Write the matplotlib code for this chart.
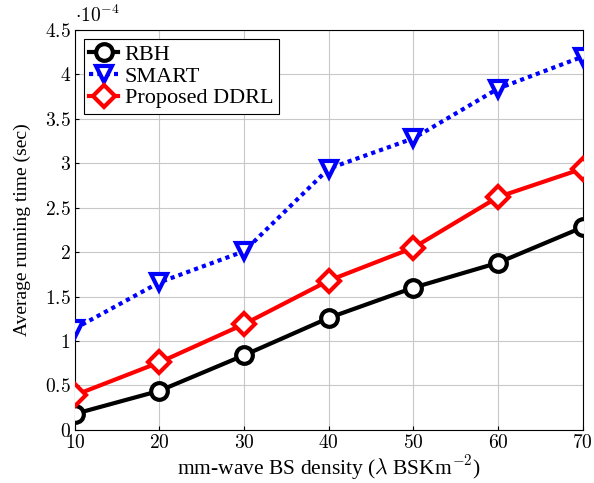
import numpy as np
import matplotlib.pyplot as plt
from matplotlib.ticker import FuncFormatter

plt.rcParams['font.family'] = ['Liberation Serif', 'DejaVu Serif']
plt.rcParams['mathtext.fontset'] = 'cm'

# dati (tempo in unità di 1e-4 s)
density = [10, 20, 30, 40, 50, 60, 70]
rbh = [0.18, 0.44, 0.84, 1.26, 1.60, 1.88, 2.28]
smart = [1.14, 1.66, 2.01, 2.94, 3.28, 3.84, 4.20]
ddrl = [0.39, 0.76, 1.19, 1.68, 2.05, 2.62, 2.94]

fig = plt.figure(figsize=(5.94, 4.83), dpi=100)
ax = fig.add_axes([0.126, 0.110, 0.855, 0.828])

ax.plot(density, rbh, color='black', lw=3, marker='o', ms=12, mew=3,
        mfc='white', label='RBH', zorder=3)
ax.plot(density, smart, color='blue', lw=3, ls=(0, (1, 1)), marker='v', ms=12, mew=3,
        mfc='white', label='SMART', zorder=3)
ax.plot(density, ddrl, color='red', lw=3, marker='D', ms=11, mew=3,
        mfc='white', label='Proposed DDRL', zorder=3)

ax.set_xlim(10, 70)
ax.set_ylim(0, 4.5)
ax.set_xticks(density)
ax.set_yticks(np.arange(0, 4.51, 0.5))
ax.xaxis.set_major_formatter(FuncFormatter(lambda v, p: f'${v:g}$'))
ax.yaxis.set_major_formatter(FuncFormatter(lambda v, p: f'${v:g}$'))
ax.tick_params(direction='in', length=3, labelsize=14, pad=3)
ax.grid(True, color='#c8c8c8', lw=0.8)
ax.set_axisbelow(True)
for s in ax.spines.values():
    s.set_linewidth(0.8)

ax.text(0.0, 1.01, r'$\cdot10^{-4}$', transform=ax.transAxes, fontsize=14,
        ha='left', va='bottom')

ax.set_xlabel(r'mm-wave BS density ($\lambda$ BSKm$^{-2}$)', fontsize=15.5, labelpad=1)
ax.set_ylabel('Average running time (sec)', fontsize=14, labelpad=10)

leg = ax.legend(loc='upper left', fontsize=16, fancybox=False, edgecolor='black',
                framealpha=1, handlelength=1.3, borderpad=0.25, labelspacing=0.05,
                handletextpad=0.3, bbox_to_anchor=(0.0, 1.0), borderaxespad=0.4)
leg.get_frame().set_linewidth(0.8)

fig.savefig('out.png', dpi=100)
